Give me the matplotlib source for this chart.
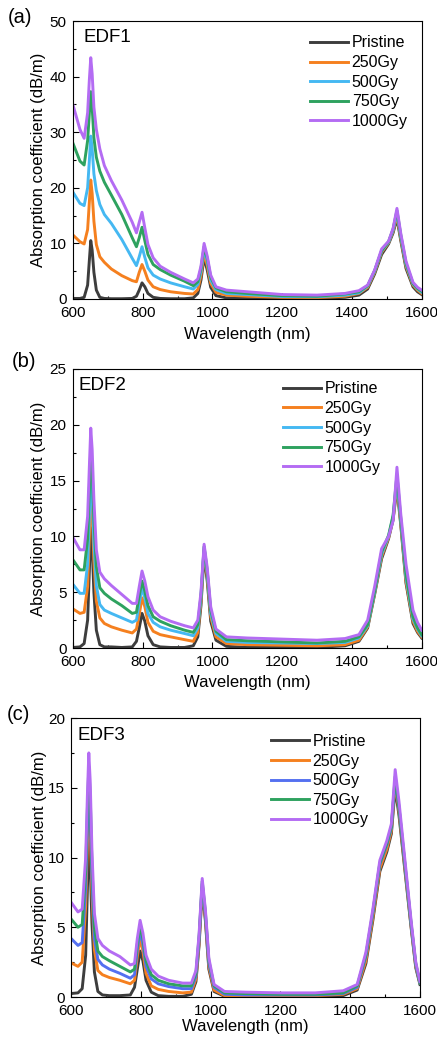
import matplotlib
matplotlib.use('Agg')
import matplotlib.pyplot as plt
from matplotlib.ticker import MultipleLocator

plt.rcParams['font.family'] = ['Liberation Sans', 'DejaVu Sans']

# wavelength grid (nm), shared by all three panels
wl = [600, 620, 632, 642, 647, 651, 655, 660, 667, 677, 690, 710, 740, 770, 782, 790,
      798, 806, 815, 830, 850, 880, 920, 945, 958, 967, 976, 985, 995, 1010, 1040,
      1100, 1200, 1300, 1380, 1420, 1445, 1465, 1485, 1505, 1518, 1529, 1540, 1555,
      1575, 1588, 1600]

labels = ['Pristine', '250Gy', '500Gy', '750Gy', '1000Gy']

# EDF1
edf1_pristine = [0.1, 0.1, 0.3, 2.5, 7.0, 10.5, 8.8, 4.8, 1.6, 0.3, 0.1, 0.05, 0.05, 0.1, 0.5, 1.6,
                 2.9, 2.2, 1.0, 0.3, 0.1, 0.05, 0.05, 0.2, 1.0, 3.4, 7.5, 5.2, 2.1, 0.6, 0.2,
                 0.1, 0.05, 0.1, 0.3, 0.7, 1.8, 4.5, 8.0, 9.9, 11.9, 14.5, 10.5, 5.5,
                 2.2, 1.3, 0.8]
edf1_250 = [11.5, 10.3, 9.9, 12.5, 17.5, 21.4, 19.0, 14.0, 9.8, 7.6, 6.6, 5.4, 4.2, 3.3, 3.1, 4.8,
            6.2, 5.0, 3.4, 2.2, 1.7, 1.3, 1.0, 0.9, 1.7, 4.2, 8.2, 6.0, 2.8, 1.2, 0.7,
            0.5, 0.3, 0.25, 0.5, 1.0, 2.1, 4.8, 8.4, 10.1, 12.2, 15.0, 10.9, 5.9,
            2.5, 1.6, 1.0]
edf1_500 = [19.2, 17.2, 16.8, 20.0, 25.0, 29.3, 27.0, 22.5, 19.5, 17.0, 15.2, 13.6, 10.7, 7.3, 6.0, 7.6,
            9.4, 7.5, 5.6, 4.3, 3.6, 2.9, 2.2, 1.8, 2.6, 4.9, 9.0, 6.8, 3.4, 1.7, 1.0,
            0.8, 0.45, 0.4, 0.7, 1.1, 2.3, 5.0, 8.6, 10.2, 12.4, 15.5, 11.2, 6.2,
            2.7, 1.8, 1.2]
edf1_750 = [28.0, 24.8, 24.1, 28.5, 33.5, 37.3, 34.5, 29.0, 25.5, 23.0, 21.0, 18.7, 15.2, 11.0, 9.4, 11.0,
            12.9, 10.5, 8.0, 6.2, 5.3, 4.3, 3.2, 2.4, 3.1, 5.5, 9.4, 7.3, 3.9, 2.0, 1.3,
            1.0, 0.6, 0.5, 0.9, 1.3, 2.4, 5.1, 8.7, 10.3, 12.6, 15.9, 11.5, 6.4,
            2.8, 1.9, 1.4]
edf1_1000 = [34.9, 30.5, 28.9, 33.5, 39.5, 43.4, 40.5, 34.5, 30.5, 27.0, 24.0, 21.3, 17.8, 13.8, 11.9, 13.8,
             15.6, 12.8, 9.8, 7.4, 5.9, 4.8, 3.6, 2.9, 3.6, 5.9, 10.0, 7.7, 4.3, 2.2, 1.6,
             1.3, 0.8, 0.7, 1.0, 1.5, 2.5, 5.2, 9.0, 10.4, 12.7, 16.3, 11.8, 6.8,
             3.0, 2.1, 1.6]

# EDF2
edf2_pristine = [0.05, 0.1, 0.4, 2.5, 7.0, 10.8, 9.0, 5.0, 1.6, 0.3, 0.1, 0.1, 0.05, 0.1, 0.6, 1.8,
                 3.1, 2.4, 1.1, 0.3, 0.1, 0.05, 0.05, 0.2, 1.0, 3.8, 8.4, 6.0, 2.4, 0.7, 0.15,
                 0.05, 0.05, 0.05, 0.2, 0.6, 1.8, 4.8, 8.0, 9.8, 11.5, 14.4, 11.0, 5.8,
                 2.2, 1.4, 0.9]
edf2_250 = [3.5, 3.1, 3.2, 5.5, 10.0, 14.0, 12.3, 7.8, 4.2, 2.7, 2.2, 1.9, 1.6, 1.35, 1.7, 3.0,
            4.5, 3.7, 2.3, 1.5, 1.2, 1.0, 0.75, 0.6, 1.4, 4.2, 8.8, 6.4, 2.8, 1.0, 0.4,
            0.3, 0.25, 0.2, 0.3, 0.7, 1.9, 4.9, 8.2, 9.9, 11.6, 14.7, 11.2, 6.0,
            2.4, 1.5, 1.0]
edf2_500 = [5.7, 4.9, 4.9, 7.5, 12.0, 15.9, 14.0, 9.5, 5.6, 3.9, 3.4, 3.1, 2.7, 2.3, 2.5, 4.0,
            5.4, 4.5, 3.1, 2.3, 1.9, 1.6, 1.3, 1.1, 1.8, 4.5, 9.0, 6.7, 3.1, 1.3, 0.6,
            0.5, 0.45, 0.4, 0.5, 0.9, 2.0, 5.0, 8.4, 10.0, 11.8, 15.0, 11.4, 6.3,
            2.6, 1.7, 1.1]
edf2_750 = [7.9, 7.0, 7.0, 9.8, 14.3, 17.9, 16.0, 11.5, 7.3, 5.4, 4.9, 4.4, 3.8, 3.1, 3.2, 4.7,
            6.0, 5.1, 3.8, 2.8, 2.4, 2.0, 1.6, 1.4, 2.1, 4.7, 9.1, 6.9, 3.4, 1.5, 0.75,
            0.65, 0.55, 0.45, 0.6, 1.0, 2.1, 5.1, 8.6, 10.1, 11.9, 15.5, 11.6, 6.6,
            2.8, 1.8, 1.2]
edf2_1000 = [9.9, 8.8, 8.8, 11.8, 16.3, 19.7, 17.8, 13.3, 8.8, 6.8, 6.2, 5.6, 4.8, 4.0, 4.0, 5.5,
             6.9, 6.0, 4.6, 3.4, 2.8, 2.4, 2.0, 1.8, 2.5, 5.0, 9.3, 7.2, 3.7, 1.7, 1.0,
             0.9, 0.8, 0.7, 0.85, 1.2, 2.5, 5.5, 8.9, 10.0, 11.4, 16.2, 12.0, 7.5,
             3.4, 2.3, 1.6]

# EDF3
edf3_pristine = [0.25, 0.3, 0.6, 3.0, 7.8, 11.2, 9.5, 5.3, 1.8, 0.4, 0.15, 0.1, 0.1, 0.15, 0.7, 2.0,
                 3.3, 2.6, 1.2, 0.35, 0.1, 0.05, 0.05, 0.2, 1.1, 3.7, 7.7, 5.5, 2.0, 0.4, 0.05,
                 0.05, 0.05, 0.05, 0.1, 0.5, 2.4, 5.5, 9.0, 10.4, 11.7, 15.0, 13.0, 9.5,
                 4.9, 2.1, 0.9]
edf3_250 = [2.45, 2.2, 2.5, 6.5, 11.0, 14.1, 12.2, 7.5, 3.4, 1.9, 1.6, 1.4, 1.2, 0.95, 1.2, 2.9,
            4.2, 3.3, 1.7, 0.8, 0.55, 0.4, 0.3, 0.35, 1.3, 3.9, 7.9, 5.7, 2.2, 0.5, 0.1,
            0.1, 0.1, 0.1, 0.2, 0.6, 2.6, 5.7, 9.2, 10.6, 11.9, 15.4, 13.3, 9.7,
            5.0, 2.2, 1.0]
edf3_500 = [4.2, 3.7, 3.9, 7.8, 12.3, 15.3, 13.3, 8.5, 4.2, 2.7, 2.3, 2.0, 1.7, 1.35, 1.6, 3.4,
            4.7, 3.8, 2.2, 1.3, 0.95, 0.75, 0.6, 0.6, 1.5, 4.1, 8.1, 5.9, 2.4, 0.7, 0.2,
            0.15, 0.15, 0.15, 0.25, 0.7, 2.9, 6.0, 9.5, 10.9, 12.1, 15.6, 13.5, 9.9,
            5.1, 2.3, 1.0]
edf3_750 = [5.6, 5.0, 5.2, 9.0, 13.5, 16.5, 14.5, 9.5, 5.0, 3.3, 2.9, 2.6, 2.2, 1.8, 2.0, 3.8,
            5.1, 4.2, 2.6, 1.6, 1.2, 0.95, 0.8, 0.8, 1.7, 4.3, 8.3, 6.1, 2.6, 0.8, 0.3,
            0.25, 0.2, 0.2, 0.3, 0.8, 3.0, 6.1, 9.6, 11.0, 12.2, 15.8, 13.6, 10.0,
            5.2, 2.4, 1.0]
edf3_1000 = [6.8, 6.1, 6.3, 10.0, 14.5, 17.5, 15.5, 10.5, 6.0, 4.2, 3.7, 3.3, 2.9, 2.3, 2.4, 4.2,
             5.5, 4.6, 3.0, 2.0, 1.5, 1.2, 1.0, 1.0, 1.9, 4.5, 8.5, 6.3, 2.8, 0.9, 0.4,
             0.35, 0.3, 0.3, 0.45, 0.9, 3.2, 6.3, 9.8, 11.2, 12.4, 16.3, 14.0, 10.3,
             5.4, 2.5, 1.1]

colors_ab = ['#3d3d3d', '#f5801f', '#45b8f2', '#2ea25f', '#b46cf3']
colors_c = ['#3d3d3d', '#f5801f', '#5470f0', '#2ea25f', '#b46cf3']

panels = [
    # tag, name, series, colours, ymax, ystep, axes rect, legend anchor, name pos, tag pos, xlabel y, ylabel x
    ('(a)', 'EDF1', [edf1_pristine, edf1_250, edf1_500, edf1_750, edf1_1000], colors_ab, 50, 10,
     [0.167, 0.7125, 0.798, 0.2673], (0.68, 0.948), (0.029, 0.972), (0.018, 0.9827), -0.10, -0.077),
    ('(b)', 'EDF2', [edf2_pristine, edf2_250, edf2_500, edf2_750, edf2_1000], colors_ab, 25, 5,
     [0.167, 0.3769, 0.798, 0.2683], (0.602, 0.956), (0.017, 0.971), (0.027, 0.652), -0.097, -0.077),
    ('(c)', 'EDF3', [edf3_pristine, edf3_250, edf3_500, edf3_750, edf3_1000], colors_c, 20, 5,
     [0.1625, 0.0413, 0.7985, 0.2683], (0.573, 0.943), (0.018, 0.969), (0.016, 0.3125), -0.079, -0.070),
]

fig = plt.figure(figsize=(4.37, 10.4), dpi=100)

for tag, name, series, cols, ymax, ystep, rect, leg_xy, name_xy, tag_xy, xl_y, yl_x in panels:
    ax = fig.add_axes(rect)
    for ys, c, lab in zip(series, cols, labels):
        ax.plot(wl, ys, color=c, lw=2.1, label=lab)
    ax.set_xlim(600, 1600)
    ax.set_ylim(0, ymax)
    ax.xaxis.set_major_locator(MultipleLocator(200))
    ax.xaxis.set_minor_locator(MultipleLocator(100))
    ax.yaxis.set_major_locator(MultipleLocator(ystep))
    ax.yaxis.set_minor_locator(MultipleLocator(ystep / 2))
    ax.tick_params(which='both', direction='in', labelsize=11, width=0.8)
    ax.tick_params(axis='x', which='both', pad=5)
    ax.tick_params(axis='y', which='both', pad=4.5)
    ax.tick_params(which='major', length=4)
    ax.tick_params(which='minor', length=2.5)
    for sp in ax.spines.values():
        sp.set_linewidth(0.8)
    ax.set_xlabel('Wavelength (nm)', fontsize=12)
    ax.set_ylabel('Absorption coefficient (dB/m)', fontsize=12)
    ax.xaxis.set_label_coords(0.5, xl_y)
    ax.yaxis.set_label_coords(yl_x, 0.5)
    ax.text(name_xy[0], name_xy[1], name, transform=ax.transAxes, fontsize=13.5,
            va='top', ha='left')
    fig.text(tag_xy[0], tag_xy[1], tag, fontsize=14.5, va='center', ha='left')
    ax.legend(loc='upper left', bbox_to_anchor=leg_xy, frameon=False, fontsize=11.5,
              handlelength=2.4, handletextpad=0.2, labelspacing=0.29, borderpad=0,
              borderaxespad=0)

fig.savefig('out.png', dpi=100)
